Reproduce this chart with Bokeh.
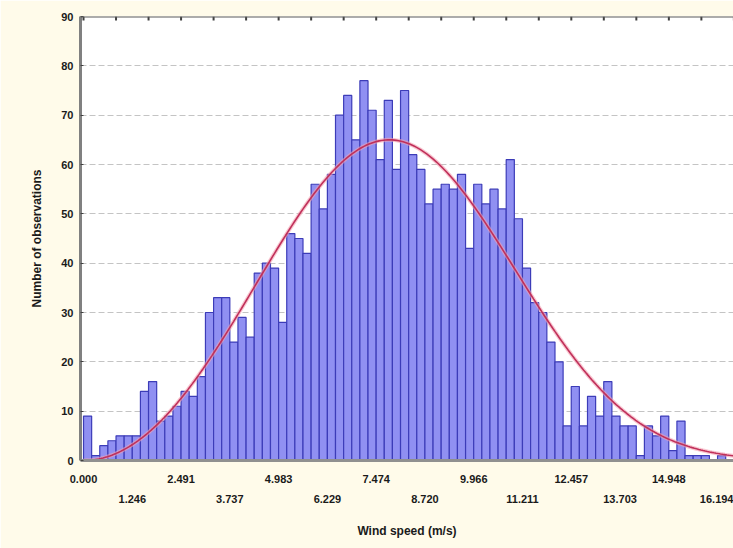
import numpy as np
from bokeh.plotting import figure
from bokeh.models import Range1d, LinearAxis, FixedTicker, PrintfTickFormatter, ColumnDataSource, Span
from bokeh.embed import file_html
from bokeh.resources import INLINE

# ---- data ----
BIN_WIDTH = 0.2076
COUNTS = [9, 1, 3, 4, 5, 5, 5, 14, 16, 8,
          9, 11, 14, 13, 17, 30, 33, 33, 24, 29,
          25, 38, 40, 39, 28, 46, 45, 42, 56, 51,
          58, 70, 74, 65, 77, 71, 61, 73, 59, 75,
          62, 59, 52, 55, 56, 55, 58, 43, 56, 52,
          55, 51, 61, 49, 39, 32, 30, 24, 20, 7,
          15, 7, 13, 9, 16, 9, 7, 7, 1, 7,
          5, 9, 2, 8, 1, 1, 1, 0, 1, 0]
Y_TICKS = [0, 10, 20, 30, 40, 50, 60, 70, 80, 90]
X_TICKS = [0.000, 1.246, 2.491, 3.737, 4.983, 6.229, 7.474,
           8.720, 9.966, 11.211, 12.457, 13.703, 14.948, 16.194]
TOP_TICK_STEP = 0.8305
# fitted curve parameters: Weibull shape/scale, peak height
FIT_SHAPE = 3.0
FIT_SCALE = 8.94
FIT_PEAK = 65.0

BG = "#fffbea"
FONT = "Liberation Sans"
X_END = 16.6

left = [i * BIN_WIDTH for i in range(len(COUNTS))]
right = [(i + 1) * BIN_WIDTH for i in range(len(COUNTS))]
src = ColumnDataSource(dict(left=left, right=right, top=COUNTS))

p = figure(width=733, height=548, output_backend="svg", toolbar_location=None,
           x_range=Range1d(-0.077, X_END), y_range=Range1d(0, 90),
           x_axis_location=None, y_axis_location="left",
           min_border_left=80, min_border_right=0, min_border_top=16,
           min_border_bottom=88)
p.background_fill_color = "white"
p.border_fill_color = BG
p.outline_line_color = None

# grid
p.xgrid.visible = False
p.ygrid.ticker = FixedTicker(ticks=Y_TICKS)
p.ygrid.grid_line_color = "#c4c4c4"
p.ygrid.grid_line_dash = "6 3"
p.ygrid.grid_line_width = 1

# bars
p.quad(left="left", right="right", top="top", bottom=0, source=src,
       fill_color="#9090f2", line_color="#3c3cb8", line_width=1.2)

# fitted curve
xs = np.linspace(0.001, X_END, 300)
k, lam = FIT_SHAPE, FIT_SCALE
mode = lam * ((k - 1) / k) ** (1 / k)
def g(x):
    return x ** (k - 1) * np.exp(-(x / lam) ** k)
ys = FIT_PEAK * g(xs) / g(mode)
p.line(xs, ys, line_color="#f4a0b0", line_width=4, line_alpha=0.6)
p.line(xs, ys, line_color="#c0305a", line_width=1.6)

# top border with tick marks
p.add_layout(Span(location=90, dimension="width", line_color="#5a5a5a", line_width=2))
top_ticks = [i * TOP_TICK_STEP for i in range(21)]
p.segment(x0=top_ticks, y0=[90] * len(top_ticks), x1=top_ticks,
          y1=[89.2] * len(top_ticks), line_color="#404040", line_width=2)

# left axis
ya = p.yaxis[0]
ya.ticker = FixedTicker(ticks=Y_TICKS)
ya.axis_line_color = "#808080"
ya.axis_line_width = 3
ya.major_tick_in = 3
ya.major_tick_out = 0
ya.major_tick_line_color = "#404040"
ya.minor_tick_line_color = None
ya.major_label_standoff = 7
ya.major_label_text_font = FONT
ya.major_label_text_font_style = "bold"
ya.major_label_text_font_size = "11px"
ya.major_label_text_color = "#1a1a1a"
ya.axis_label = "Number of observations"
ya.axis_label_text_font = FONT
ya.axis_label_text_font_style = "bold"
ya.axis_label_text_font_size = "12px"
ya.axis_label_text_color = "#1a1a1a"
ya.axis_label_standoff = 14

def style_x(ax):
    ax.major_tick_in = 0
    ax.major_tick_out = 0
    ax.minor_tick_line_color = None
    ax.major_label_text_font = FONT
    ax.major_label_text_font_style = "bold"
    ax.major_label_text_font_size = "11px"
    ax.major_label_text_color = "#1a1a1a"
    ax.formatter = PrintfTickFormatter(format="%.3f")

# bottom axis, first row (even labels)
xa1 = LinearAxis(ticker=FixedTicker(ticks=X_TICKS[0::2]))
style_x(xa1)
xa1.axis_line_color = "#909090"
xa1.axis_line_width = 3
xa1.major_label_standoff = 14
p.add_layout(xa1, "below")

# bottom axis, second row (odd labels)
xa2 = LinearAxis(ticker=FixedTicker(ticks=X_TICKS[1::2]))
style_x(xa2)
xa2.axis_line_color = None
xa2.major_label_standoff = 9
xa2.axis_label = "Wind speed (m/s)"
xa2.axis_label_text_font = FONT
xa2.axis_label_text_font_style = "bold"
xa2.axis_label_text_font_size = "12px"
xa2.axis_label_text_color = "#1a1a1a"
xa2.axis_label_standoff = 18
p.add_layout(xa2, "below")

open("out.html", "w").write(file_html(p, INLINE))
